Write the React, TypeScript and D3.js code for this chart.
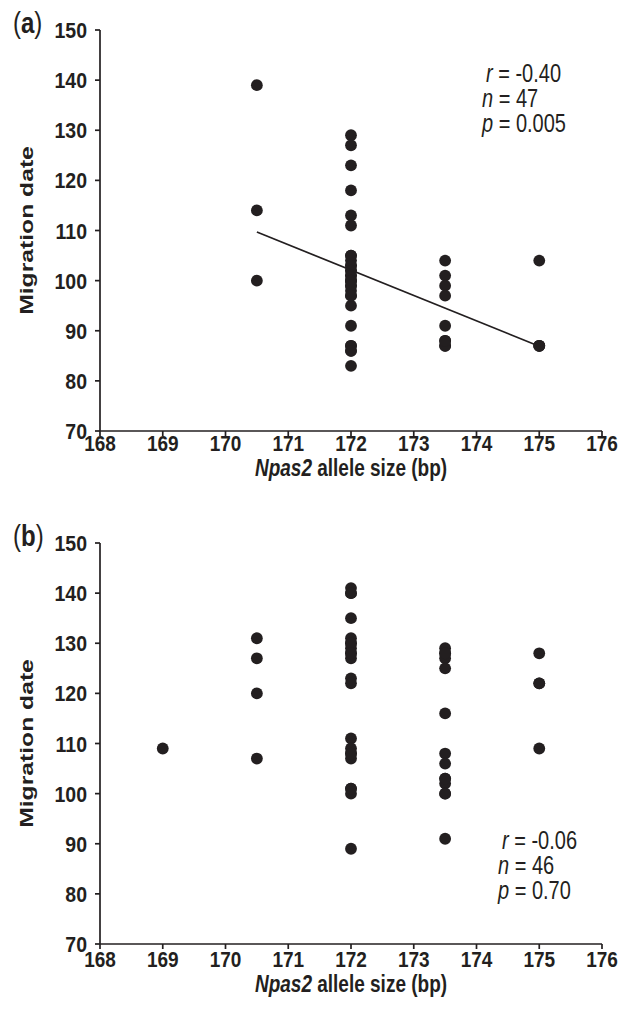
import React from "react";
import * as d3 from "d3";

// Panel (a) data: allele size (bp) vs migration date
const allelesA = [
  170.5, 170.5, 170.5,
  172, 172, 172, 172, 172, 172, 172, 172, 172, 172, 172, 172, 172, 172, 172, 172, 172, 172, 172, 172,
  172, 172, 172, 172, 172, 172, 172, 172, 172, 172,
  173.5, 173.5, 173.5, 173.5, 173.5, 173.5, 173.5, 173.5, 173.5,
  175, 175, 175, 175,
];
const datesA = [
  139, 114, 100,
  129, 127, 123, 118, 113, 111, 105, 104, 103, 102, 101, 100, 99, 98, 97, 95, 91, 87, 86, 83,
  105, 103, 102, 101, 100, 100, 99, 97, 87, 86,
  104, 101, 99, 97, 91, 88, 87, 87, 88,
  104, 87, 87, 87,
];
const fitX_A = [170.5, 175];
const fitY_A = [109.7, 86.9];
const statsLabels = ["r", "n", "p"];
const statsValA = ["-0.40", "47", "0.005"];

// Panel (b) data
const allelesB = [
  169,
  170.5, 170.5, 170.5, 170.5,
  172, 172, 172, 172, 172, 172, 172, 172, 172, 172, 172, 172, 172, 172, 172, 172, 172,
  172, 172, 172, 172, 172,
  173.5, 173.5, 173.5, 173.5, 173.5, 173.5, 173.5, 173.5, 173.5, 173.5, 173.5,
  173.5, 173.5, 173.5,
  175, 175, 175, 175,
];
const datesB = [
  109,
  131, 127, 120, 107,
  141, 140, 135, 131, 130, 129, 128, 127, 123, 122, 111, 109, 108, 107, 101, 100, 89,
  130, 128, 108, 101, 140,
  129, 128, 127, 125, 116, 108, 106, 103, 102, 100, 91,
  128, 103, 100,
  128, 122, 109, 122,
];
const statsValB = ["-0.06", "46", "0.70"];

const xTicks = [168, 169, 170, 171, 172, 173, 174, 175, 176];
const yTicks = [70, 80, 90, 100, 110, 120, 130, 140, 150];

const INK = "#231f20";
const FONT = "'Liberation Sans', Arial, sans-serif";
const TICK_STRETCH = 1.15;
const TEXT_STRETCH = 1.25;

type PanelProps = {
  top: number;
  label: string;
  xs: number[];
  ys: number[];
  fitX?: number[];
  fitY?: number[];
  statsVal: string[];
  statsX: number;
  statsY: number;
  labelDy: number;
};

function Panel({ top, label, xs, ys, fitX, fitY, statsVal, statsX, statsY, labelDy }: PanelProps) {
  const x = d3.scaleLinear().domain([168, 176]).range([100, 602]);
  const y = d3.scaleLinear().domain([70, 150]).range([top + 401, top]);
  const line = d3
    .line<number>()
    .x((d) => x(d))
    .y((_, i) => y(fitY ? fitY[i] : 0));
  const yMid = (y(70) + y(150)) / 2;
  return (
    <g>
      <g transform={`translate(13,${top + 3}) scale(1,${TEXT_STRETCH})`}>
        <text x={0} y={0} fontFamily={FONT} fontSize={24} fill={INK}>
          (<tspan fontWeight="bold">{label}</tspan>)
        </text>
      </g>
      {/* y axis */}
      <line x1={x(168)} x2={x(168)} y1={y(150)} y2={y(70)} stroke={INK} strokeWidth={1.7} />
      {yTicks.map((t) => (
        <g key={"y" + t}>
          <line x1={x(168) - 5} x2={x(168)} y1={y(t)} y2={y(t)} stroke={INK} strokeWidth={1.7} />
          <g transform={`translate(${x(168) - 13},${y(t)}) scale(1,${TICK_STRETCH})`}>
            <text
              x={0}
              y={0}
              dy="0.36em"
              textAnchor="end"
              fontFamily={FONT}
              fontWeight="bold"
              fontSize={19.5}
              fill={INK}
            >
              {t}
            </text>
          </g>
        </g>
      ))}
      {/* x axis */}
      <line x1={x(168)} x2={x(176)} y1={y(70)} y2={y(70)} stroke={INK} strokeWidth={1.7} />
      {xTicks.map((t) => (
        <g key={"x" + t}>
          <line x1={x(t)} x2={x(t)} y1={y(70)} y2={y(70) + 5} stroke={INK} strokeWidth={1.7} />
          <g transform={`translate(${x(t)},${y(70) + 20 + labelDy}) scale(1,${TICK_STRETCH})`}>
            <text
              x={0}
              y={0}
              textAnchor="middle"
              fontFamily={FONT}
              fontWeight="bold"
              fontSize={19}
              fill={INK}
            >
              {t}
            </text>
          </g>
        </g>
      ))}
      <g transform={`translate(351,${y(70) + 45 + labelDy}) scale(1,${TEXT_STRETCH})`}>
        <text
          x={0}
          y={0}
          textAnchor="middle"
          fontFamily={FONT}
          fontWeight="bold"
          fontSize={19}
          fill={INK}
        >
          <tspan fontStyle="italic">Npas2</tspan> allele size (bp)
        </text>
      </g>
      <g transform={`translate(33,${yMid}) scale(1,1.3) rotate(-90)`}>
        <text
          x={0}
          y={0}
          textAnchor="middle"
          fontFamily={FONT}
          fontWeight="bold"
          fontSize={19}
          fill={INK}
        >
          Migration date
        </text>
      </g>
      {/* points */}
      {xs.map((d, i) => (
        <circle key={"p" + i} cx={x(d)} cy={y(ys[i])} r={5.9} fill={INK} />
      ))}
      {fitX && fitY && (
        <path d={line(fitX) || ""} fill="none" stroke={INK} strokeWidth={1.7} />
      )}
      {statsLabels.map((s, i) => (
        <g
          key={"s" + i}
          transform={`translate(${statsX + (i === 0 ? 4 : 0)},${statsY + i * 25}) scale(1,${TEXT_STRETCH})`}
        >
          <text x={0} y={0} fontFamily={FONT} fontSize={20} fill={INK}>
            <tspan fontStyle="italic">{s}</tspan> = {statsVal[i]}
          </text>
        </g>
      ))}
    </g>
  );
}

export default function App() {
  return (
    <svg
      width={632}
      height={1009}
      style={{ position: "absolute", left: 0, top: 0, display: "block" }}
    >
      <rect x={0} y={0} width={632} height={1009} fill="#ffffff" />
      <Panel
        top={30}
        label="a"
        xs={allelesA}
        ys={datesA}
        fitX={fitX_A}
        fitY={fitY_A}
        statsVal={statsValA}
        statsX={482}
        statsY={82}
        labelDy={0}
      />
      <Panel
        top={543}
        label="b"
        xs={allelesB}
        ys={datesB}
        statsVal={statsValB}
        statsX={498}
        statsY={849}
        labelDy={3}
      />
    </svg>
  );
}
